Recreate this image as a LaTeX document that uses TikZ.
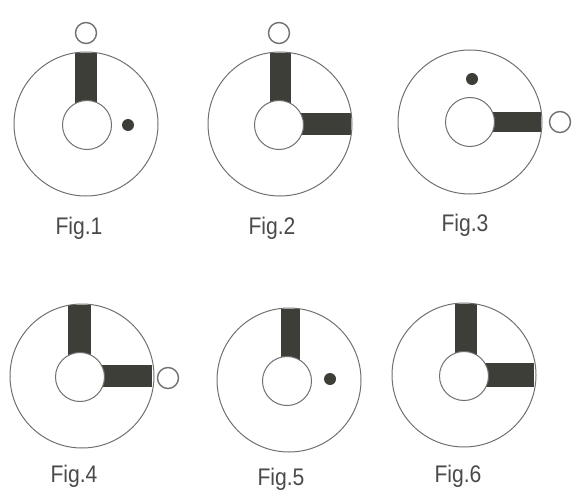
\documentclass[tikz,border=0pt]{standalone}
\usepackage{fontspec}
\setmainfont{Liberation Sans}
\definecolor{ln}{HTML}{707070}
\definecolor{barc}{HTML}{3C3E37}
\definecolor{txt}{HTML}{4A4A4A}
\begin{document}
\begin{tikzpicture}[x=1pt,y=-1pt,
  outer/.style={circle,draw=ln,line width=1pt,inner sep=0pt,minimum size=144pt},
  inner/.style={circle,draw=ln,fill=white,line width=1pt,inner sep=0pt,minimum size=49pt},
  ring/.style={circle,draw=ln,fill=white,line width=1.4pt,inner sep=0pt,minimum size=21pt},
  dot/.style={circle,fill=barc,inner sep=0pt,minimum size=12pt},
  lbl/.style={text=txt,font=\fontsize{24}{28}\selectfont,inner sep=0pt,xscale=0.88}]
\useasboundingbox (0,0) rectangle (575,500);
% Fig.1
\fill[barc] (75,53) rectangle (97,124);
\node[outer] (o1) at (86,124) {};
\node[inner] (i1) at (87,125) {};
\node[ring] (r1) at (86,33) {};
\node[dot] (d1) at (128,125) {};
\node[lbl] (l1) at (79,228) {Fig.1};
% Fig.2
\fill[barc] (270,53) rectangle (291,124);
\fill[barc] (280,113) rectangle (351,135);
\node[outer] (o2) at (280,124) {};
\node[inner] (i2) at (279,125) {};
\node[ring] (r2) at (279,33) {};
\node[lbl] (l2) at (272,228) {Fig.2};
% Fig.3
\fill[barc] (470,112) rectangle (541,132);
\node[outer] (o3) at (470,122) {};
\node[inner] (i3) at (470,122) {};
\node[ring] (r3) at (560,122) {};
\node[dot] (d3) at (472,79) {};
\node[lbl] (l3) at (465,225) {Fig.3};
% Fig.4
\fill[barc] (68,305) rectangle (91,376);
\fill[barc] (82,365) rectangle (152,387);
\node[outer] (o4) at (82,376) {};
\node[inner] (i4) at (80,377) {};
\node[ring] (r4) at (168,378) {};
\node[lbl] (l4) at (74,476) {Fig.4};
% Fig.5
\fill[barc] (281,309) rectangle (300,380);
\node[outer] (o5) at (289,380) {};
\node[inner] (i5) at (287,381) {};
\node[dot] (d5) at (330,379) {};
\node[lbl] (l5) at (281,479) {Fig.5};
% Fig.6
\fill[barc] (455,304) rectangle (477,375);
\fill[barc] (464,363) rectangle (534,387);
\node[outer] (o6) at (464,375) {};
\node[inner] (i6) at (464,376) {};
\node[lbl] (l6) at (458,476) {Fig.6};
\end{tikzpicture}
\end{document}
